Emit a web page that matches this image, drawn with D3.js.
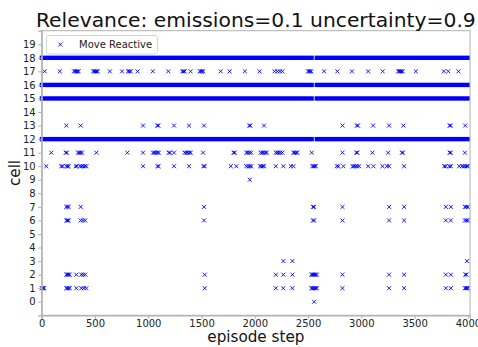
<!DOCTYPE html>
<html lang="en">
<head>
<meta charset="UTF-8">
<title>Relevance chart</title>
<script src="https://d3js.org/d3.v7.min.js"></script>
<style>
  body { margin: 0; background: #fff; font-family: "DejaVu Sans", sans-serif; }
  svg { display: block; }
  .tick text { font-size: 10px; fill: #222; }
</style>
</head>
<body>
<div id="chart"></div>
<script>
// cells visited nearly every step, drawn as runs
const fullCells = [18, 16, 15, 12];
const runStarts = [0, 2580];
const runEnds = [2535, 4000];

// sparse visits, episode steps per cell
const cell17 = [28, 170, 303, 315, 325, 335, 347, 483, 495, 505, 515, 525, 640, 754, 810, 822, 836, 900, 1043, 1188, 1320, 1332, 1342, 1397, 1484, 1495, 1505, 1516, 1680, 1764, 1907, 2045, 2185, 2212, 2236, 2260, 2500, 2510, 2520, 2530, 2651, 2775, 2912, 3064, 3200, 3346, 3356, 3366, 3376, 3388, 3512, 3775, 3816, 3912];
const cell13 = [231, 366, 951, 1085, 1095, 1242, 1383, 1524, 1948, 1958, 2087, 2823, 2958, 2968, 3111, 3261, 3395, 3829, 3839, 3975];
const cell11 = [90, 226, 236, 341, 352, 364, 378, 513, 804, 951, 1045, 1058, 1072, 1086, 1099, 1192, 1205, 1242, 1342, 1356, 1370, 1385, 1399, 1515, 1801, 1811, 1921, 1935, 1950, 1966, 2056, 2070, 2084, 2099, 2113, 2197, 2212, 2226, 2240, 2259, 2363, 2375, 2388, 2400, 2535, 2823, 2953, 2963, 3104, 3252, 3381, 3391, 3829, 3839, 3972];
const cell10 = [43, 184, 196, 232, 242, 253, 319, 330, 360, 375, 390, 405, 419, 951, 1087, 1097, 1242, 1383, 1519, 1529, 1775, 1827, 1921, 1940, 1955, 1968, 2050, 2062, 2075, 2087, 2197, 2268, 2338, 2363, 2541, 2552, 2562, 2573, 2770, 2785, 2832, 2917, 2930, 2945, 2960, 2979, 3064, 3114, 3198, 3240, 3261, 3402, 3778, 3792, 3826, 3840, 3918, 3945, 3960, 3975, 3990, 4000];
const cell9 = [1953];
const cell7 = [231, 242, 253, 366, 1524, 2546, 2556, 2823, 3261, 3402, 3793, 3840, 3972, 3986, 4000];
const cell6 = [231, 242, 253, 366, 388, 409, 1524, 2546, 2556, 2823, 3261, 3402, 3793, 3840, 3972, 3986, 4000];
const cell3 = [2268, 2353, 3991];
const cell2 = [231, 242, 252, 263, 325, 372, 390, 409, 1530, 2197, 2268, 2353, 2531, 2541, 2551, 2561, 2572, 2582, 2823, 3261, 3402, 3793, 3840, 3976, 3986];
const cell1 = [0, 8, 15, 22, 231, 242, 252, 263, 325, 372, 395, 419, 1530, 2197, 2268, 2353, 2531, 2541, 2551, 2561, 2572, 2582, 2823, 3261, 3402, 3793, 3840, 3972, 3982, 3992, 4000];
const cell0 = [2557];

const xTicks = [0, 500, 1000, 1500, 2000, 2500, 3000, 3500, 4000];
const yTicks = d3.range(0, 20);

const sparse = [
  [17, cell17], [13, cell13], [11, cell11], [10, cell10], [9, cell9],
  [7, cell7], [6, cell6], [3, cell3], [2, cell2], [1, cell1], [0, cell0]
];
const points = sparse.flatMap(([c, steps]) => steps.map(s => ({ step: s, cell: c })));
const runs = fullCells.flatMap(c => runStarts.map((s, i) => ({ cell: c, from: s, to: runEnds[i] })));

const W = 478, H = 347;
const mLeft = 41.7, mRight = 470, mTop = 30.7, mBottom = 315.3;
const blue = "#0000ff", spine = "#b0b0b0";

const svg = d3.select("#chart").append("svg")
  .attr("width", W).attr("height", H);

const x = d3.scaleLinear().domain([0, 4020]).range([mLeft, mRight]);
const y = d3.scaleLinear().domain([-1, 20]).range([mBottom, mTop]);

// dense rows
svg.append("g").selectAll("rect")
  .data(runs)
  .join("rect")
  .attr("x", d => x(d.from) - 2)
  .attr("width", d => x(d.to) - x(d.from) + 4)
  .attr("y", d => y(d.cell) - 2.2)
  .attr("height", 4.4)
  .attr("fill", blue);

// sparse markers
const cross = d3.symbol().type(d3.symbolX).size(12);
svg.append("g").selectAll("path")
  .data(points)
  .join("path")
  .attr("transform", d => `translate(${x(d.step)},${y(d.cell)})`)
  .attr("d", cross)
  .attr("fill", "none")
  .attr("stroke", blue)
  .attr("stroke-width", 0.9);

// frame
svg.append("rect")
  .attr("x", mLeft).attr("y", mTop)
  .attr("width", mRight - mLeft).attr("height", mBottom - mTop)
  .attr("fill", "none").attr("stroke", spine).attr("stroke-width", 1);

const xAxis = svg.append("g")
  .attr("transform", `translate(0,${mBottom})`)
  .call(d3.axisBottom(x).tickValues(xTicks).tickFormat(d3.format("d")).tickSize(3.5).tickPadding(1.5));
const yAxis = svg.append("g")
  .attr("transform", `translate(${mLeft},0)`)
  .call(d3.axisLeft(y).tickValues(yTicks).tickSize(3.5).tickPadding(2.5));
[xAxis, yAxis].forEach(a => {
  a.select(".domain").attr("stroke", spine).attr("stroke-width", 1.2);
  a.selectAll(".tick line").attr("stroke", spine);
  a.selectAll(".tick text").style("font-family", "DejaVu Sans");
});

// legend
const lg = svg.append("g");
lg.append("rect")
  .attr("x", 46.5).attr("y", 35.5).attr("width", 111).attr("height", 18.5)
  .attr("rx", 2.5).attr("fill", "#fff").attr("fill-opacity", 0.85)
  .attr("stroke", "#d4d4d4");
lg.append("path")
  .attr("transform", "translate(60.3,44.5)")
  .attr("d", cross).attr("fill", "none").attr("stroke", blue).attr("stroke-width", 0.9);
lg.append("text")
  .attr("x", 79).attr("y", 48.2)
  .attr("font-size", 10).attr("fill", "#222")
  .text("Move Reactive");

// title and labels
svg.append("text")
  .attr("x", (mLeft + mRight) / 2).attr("y", 26.5)
  .attr("text-anchor", "middle").attr("font-size", 20.3).attr("fill", "#111")
  .text("Relevance: emissions=0.1 uncertainty=0.9");
svg.append("text")
  .attr("x", (mLeft + mRight) / 2).attr("y", 341.5)
  .attr("text-anchor", "middle").attr("font-size", 15.2).attr("fill", "#111")
  .text("episode step");
svg.append("text")
  .attr("transform", `translate(19.5,${(mTop + mBottom) / 2}) rotate(-90)`)
  .attr("text-anchor", "middle").attr("font-size", 15.2).attr("fill", "#111")
  .text("cell");
</script>
</body>
</html>
